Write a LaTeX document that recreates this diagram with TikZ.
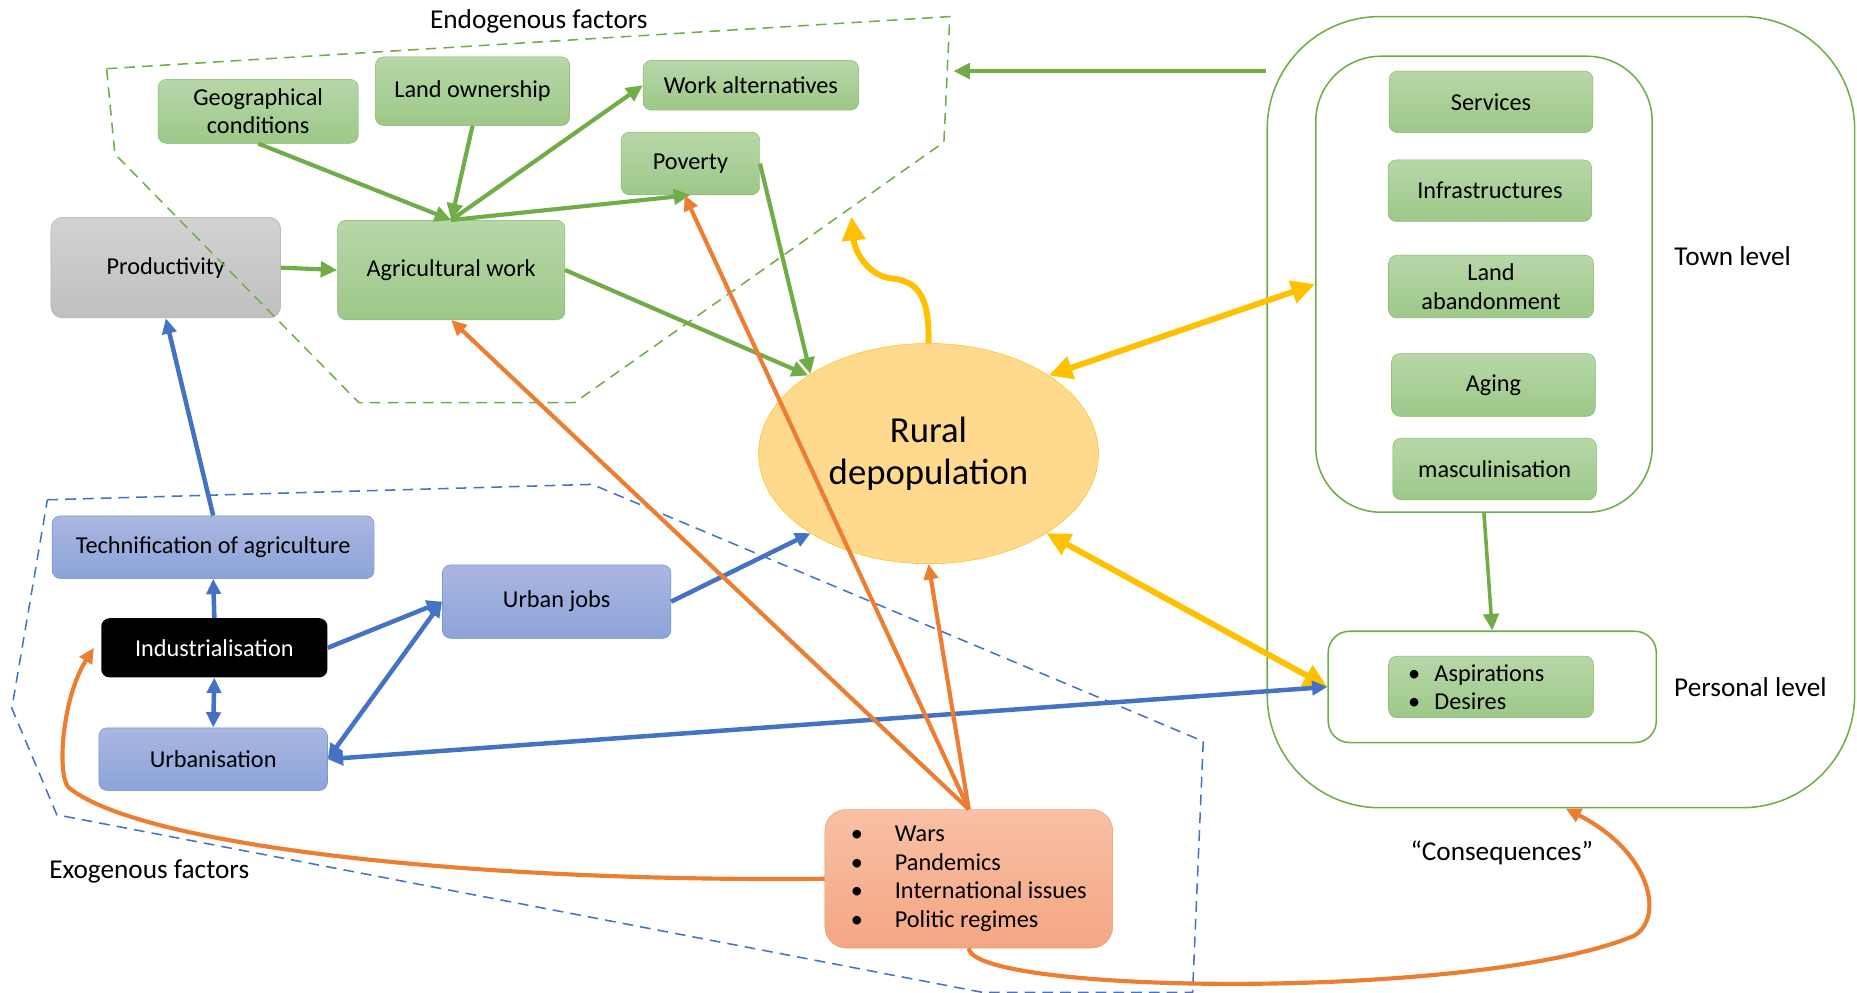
\documentclass[tikz,border=0pt]{standalone}
\usepackage{fontspec}
\setmainfont{Carlito}
\usepackage{tikz}
\usetikzlibrary{arrows.meta,shapes.geometric,positioning}
\definecolor{rdgreen}{RGB}{112,173,71}
\definecolor{rdgreentop}{RGB}{183,215,168}
\definecolor{rdgreenbot}{RGB}{157,200,136}
\definecolor{rdblue}{RGB}{68,114,196}
\definecolor{rdbluetop}{RGB}{170,183,224}
\definecolor{rdbluebot}{RGB}{140,163,217}
\definecolor{rdorange}{RGB}{237,125,49}
\definecolor{rdorangetop}{RGB}{248,192,165}
\definecolor{rdorangebot}{RGB}{244,166,131}
\definecolor{rdyellow}{RGB}{255,192,0}
\definecolor{rdsun}{RGB}{255,217,142}
\definecolor{rdgrey}{RGB}{170,170,170}
\newcommand{\boxfont}{\fontsize{20.5}{24}\selectfont}
\newcommand{\labfont}{\fontsize{23}{27}\selectfont}
\tikzstyle{gbox} = [rectangle, rounded corners=7pt, draw=rdgreen!85, top color=rdgreentop, bottom color=rdgreenbot, align=center, inner sep=2pt, font=\boxfont]
\tikzstyle{bbox} = [rectangle, rounded corners=7pt, draw=rdblue!80, top color=rdbluetop, bottom color=rdbluebot, align=center, inner sep=2pt, font=\boxfont]
\tikzstyle{level} = [rectangle, draw=rdgreen, line width=1.3pt, fill=white]
\tikzstyle{area} = [line width=1.3pt, dash pattern=on 9pt off 6pt]
\tikzstyle{garrow} = [line width=3.5pt, -{Triangle[length=14pt,width=13pt]}, color=rdgreen]
\tikzstyle{barrow} = [line width=3.8pt, -{Triangle[length=13pt,width=12pt]}, color=rdblue]
\tikzstyle{bdarrow} = [line width=3.8pt, {Triangle[length=13pt,width=12pt]}-{Triangle[length=13pt,width=12pt]}, color=rdblue]
\tikzstyle{oarrow} = [line width=3.5pt, -{Triangle[length=13pt,width=12pt]}, color=rdorange]
\tikzstyle{yarrow} = [line width=5pt, -{Triangle[length=20pt,width=19pt]}, color=rdyellow]
\tikzstyle{ydarrow} = [line width=5pt, {Triangle[length=20pt,width=19pt]}-{Triangle[length=20pt,width=19pt]}, color=rdyellow]

\begin{document}
\begin{tikzpicture}[x=1pt, y=-1pt]
\useasboundingbox (0,0) rectangle (1568,838);

% Labels
\node[font=\labfont] (endo) at (455,18) {Endogenous factors};
\node[font=\labfont] (exo) at (126,736) {Exogenous factors};

% Town and personal levels
\node[level, rounded corners=95pt, minimum width=496pt, minimum height=668pt] (town) at (1318,348) {};
\node[level, rounded corners=55pt, minimum width=284pt, minimum height=385pt] (inner) at (1253,240) {};
\node[level, rounded corners=18pt, minimum width=277pt, minimum height=94pt] (personal) at (1260,580) {};
\node[font=\labfont] (townlab) at (1463,216) {Town level};
\node[font=\labfont] (perslab) at (1478,580) {Personal level};
\node[font=\labfont] (conseq) at (1268,720) {“Consequences”};

% Endogenous boxes
\node[gbox, minimum width=169pt, minimum height=54pt] (geo) at (218,94) {Geographical\\conditions};
\node[gbox, minimum width=164pt, minimum height=58pt] (landown) at (399,77) {Land ownership};
\node[gbox, minimum width=182pt, minimum height=42pt] (workalt) at (634,72) {Work alternatives};
\node[gbox, minimum width=117pt, minimum height=53pt] (poverty) at (583,138) {Poverty};
\node[gbox, minimum width=192pt, minimum height=84pt] (agri) at (381,228) {Agricultural work};
\node[rectangle, rounded corners=10pt, draw=rdgrey, top color=gray!35, bottom color=gray!50, font=\boxfont, minimum width=194pt, minimum height=85pt] (prod) at (140,226) {Productivity};

% Town level boxes
\node[gbox, minimum width=172pt, minimum height=52pt] (services) at (1259,86) {Services};
\node[gbox, minimum width=172pt, minimum height=52pt] (infra) at (1258,161) {Infrastructures};
\node[gbox, minimum width=173pt, minimum height=53pt] (landab) at (1259,242) {Land\\abandonment};
\node[gbox, minimum width=172pt, minimum height=53pt] (aging) at (1261,325) {Aging};
\node[gbox, minimum width=172pt, minimum height=52pt] (masc) at (1262,396) {masculinisation};
\node[gbox, minimum width=173pt, minimum height=52pt, text width=140pt, align=left] (aspir) at (1259,580) {\textbullet\hspace{12pt}Aspirations\\\textbullet\hspace{12pt}Desires};

% Exogenous boxes
\node[bbox, minimum width=272pt, minimum height=53pt] (techn) at (180,462) {Technification of agriculture};
\node[rectangle, rounded corners=7pt, fill=black, text=white, font=\boxfont, minimum width=191pt, minimum height=50pt] (indus) at (181,547) {Industrialisation};
\node[bbox, minimum width=193pt, minimum height=53pt] (urban) at (180,641) {Urbanisation};
\node[bbox, minimum width=193pt, minimum height=62pt] (ujobs) at (470,508) {Urban jobs};
\node[rectangle, rounded corners=18pt, draw=rdorange!80, top color=rdorangetop, bottom color=rdorangebot, font=\boxfont, align=left, minimum width=243pt, minimum height=117pt] (wars) at (818,742) {\textbullet\hspace{27pt}Wars\\\textbullet\hspace{27pt}Pandemics\\\textbullet\hspace{27pt}International issues\\\textbullet\hspace{27pt}Politic regimes};

% Rural depopulation
\node[ellipse, draw=rdyellow, fill=rdsun, minimum width=287pt, minimum height=186pt, align=center, font=\fontsize{31}{36}\selectfont] (rural) at (784,383) {Rural\\depopulation};

% Factor areas
\draw[area, rdgreen] (90,58) -- (802,14) -- (797,120) -- (485,340) -- (303,340) -- (97,130) -- cycle;
\draw[area, rdblue] (40,422) -- (500,409) -- (1016,626) -- (1007,838) -- (830,838) -- (48,688) -- (10,598) -- cycle;

% Green arrows
\draw[garrow] (geo.south) -- (agri.north);
\draw[garrow] (landown.south) -- (agri.north);
\draw[garrow] (agri.north) -- (workalt.west);
\draw[garrow] (agri.north) -- (poverty.south);
\draw[garrow] (prod.east) -- (agri.west);
\draw[garrow] (agri.east) -- (rural.147);
\draw[garrow] (poverty.east) -- (rural.146);
\coordinate (endotip) at (805,60);
\draw[garrow] (town.west |- endotip) -- (endotip);
\draw[garrow, line width=3pt] (inner.south) -- (personal.north);

% Yellow arrows
\draw[yarrow] (rural.north) .. controls (785,250) and (775,237) .. (752,235) .. controls (735,233) and (722,215) .. (719,183);
\draw[ydarrow] (rural.33) -- (inner.west);
\draw[ydarrow] (rural.-34) -- (personal.west);

% Blue arrows
\draw[barrow] (techn.north) -- (prod.south);
\draw[barrow] (indus.north) -- (techn.south);
\draw[bdarrow] (indus.south) -- (urban.north);
\draw[barrow] (indus.east) -- (ujobs.west);
\draw[bdarrow] (urban.east) -- (ujobs.west);
\draw[barrow] (ujobs.east) -- (rural.214);
\draw[bdarrow] (urban.east) -- (personal.west);

% Orange arrows
\draw[oarrow] (wars.north) -- (agri.south);
\draw[oarrow] (wars.north) -- ([xshift=-5pt]poverty.south);
\draw[oarrow] (wars.north) -- (rural.south);
\draw[oarrow] (wars.west) .. controls (400,745) and (120,715) .. (58,665) .. controls (48,655) and (52,590) .. ([xshift=-6pt]indus.west);
\draw[oarrow] (wars.south) .. controls (822,840) and (1250,845) .. (1380,790) .. controls (1405,775) and (1395,720) .. ([xshift=4pt]town.south);
\end{tikzpicture}
\end{document}
